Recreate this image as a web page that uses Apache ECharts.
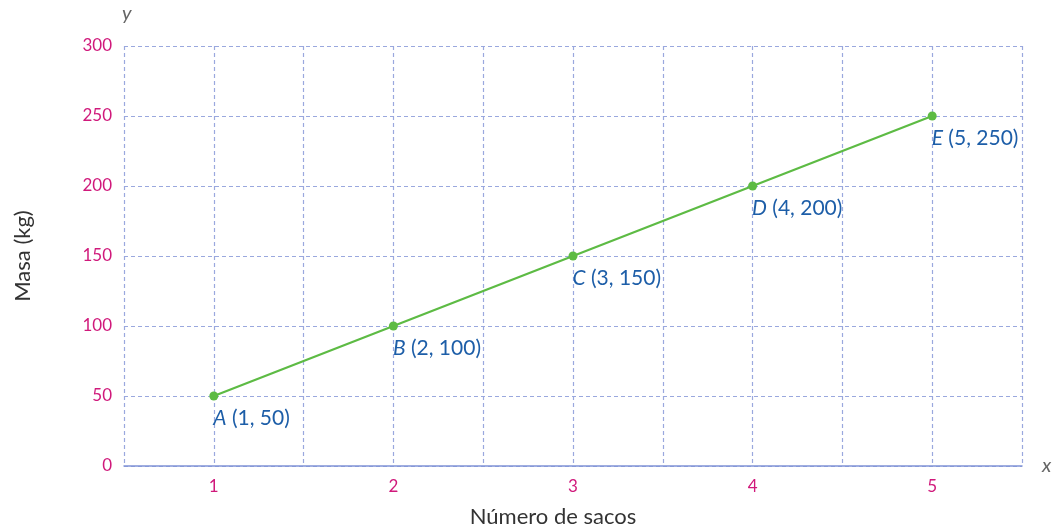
<!DOCTYPE html>
<html>
<head>
<meta charset="utf-8">
<script src="https://cdn.jsdelivr.net/npm/echarts@6/dist/echarts.min.js"></script>
<style>
  html, body { margin: 0; padding: 0; background: #fff; }
  #main { width: 1053px; height: 528px; }
</style>
</head>
<body>
<div id="main"></div>
<script>
// data
const sacos = [1, 2, 3, 4, 5];
const masa = [50, 100, 150, 200, 250];
const letras = ["A", "B", "C", "D", "E"];
const yTicks = [0, 50, 100, 150, 200, 250, 300];

const FONT = "Lato";
const gridColor = "#9aa8de";
const axisColor = "#8093d6";
const tickColor = "#d0197b";
const labelBlue = "#1d5ea8";

const points = sacos.map((x, i) => ({
  value: [x, masa[i]],
  name: letras[i],
}));

const chart = echarts.init(document.getElementById("main"), null, { renderer: "canvas" });

chart.setOption({
  animation: false,
  grid: { left: 124, right: 31, top: 46, bottom: 62, containLabel: false, outerBoundsMode: "none" },
  xAxis: {
    type: "value",
    min: 0.5,
    max: 5.5,
    interval: 0.5,
    name: "Número de sacos",
    nameLocation: "middle",
    nameGap: 40,
    nameTextStyle: { fontFamily: FONT, fontSize: 22, color: "#333", padding: [0, 40, 0, 0] },
    axisLine: { show: true, lineStyle: { color: axisColor, width: 1.5 } },
    axisTick: { show: false },
    axisLabel: {
      fontFamily: FONT,
      fontSize: 17,
      color: tickColor,
      margin: 12,
      formatter: (v) => (Number.isInteger(v) ? String(v) : ""),
    },
    splitLine: { show: true, lineStyle: { color: gridColor, type: [4, 3], width: 1.2 } },
  },
  yAxis: {
    type: "value",
    min: 0,
    max: 300,
    interval: 50,
    name: "Masa (kg)",
    nameLocation: "middle",
    nameGap: 90,
    nameRotate: 90,
    nameTextStyle: { fontFamily: FONT, fontSize: 22, color: "#333" },
    axisLine: { show: false },
    axisTick: { show: false },
    axisLabel: {
      fontFamily: FONT,
      fontSize: 17,
      color: tickColor,
      margin: 12,
    },
    splitLine: { show: true, lineStyle: { color: gridColor, type: [4, 3], width: 1.2 } },
  },
  graphic: [
    {
      type: "text",
      left: 122,
      top: 4,
      style: { text: "y", fontFamily: FONT, fontStyle: "italic", fontSize: 20, fill: "#666" },
    },
    {
      type: "text",
      left: 1042,
      top: 456,
      style: { text: "x", fontFamily: FONT, fontStyle: "italic", fontSize: 20, fill: "#666" },
    },
  ],
  series: [
    {
      type: "line",
      data: points,
      symbol: "circle",
      symbolSize: 9,
      lineStyle: { color: "#5dbb44", width: 2.2 },
      itemStyle: { color: "#5dbb44" },
      label: {
        show: true,
        position: [4, 16],
        formatter: (p) => "{l|" + p.name + "} (" + p.value[0] + ", " + p.value[1] + ")",
        fontFamily: FONT,
        fontSize: 21,
        color: labelBlue,
        rich: {
          l: { fontFamily: FONT, fontStyle: "italic", fontSize: 21, color: labelBlue },
        },
      },
    },
  ],
});
</script>
</body>
</html>
